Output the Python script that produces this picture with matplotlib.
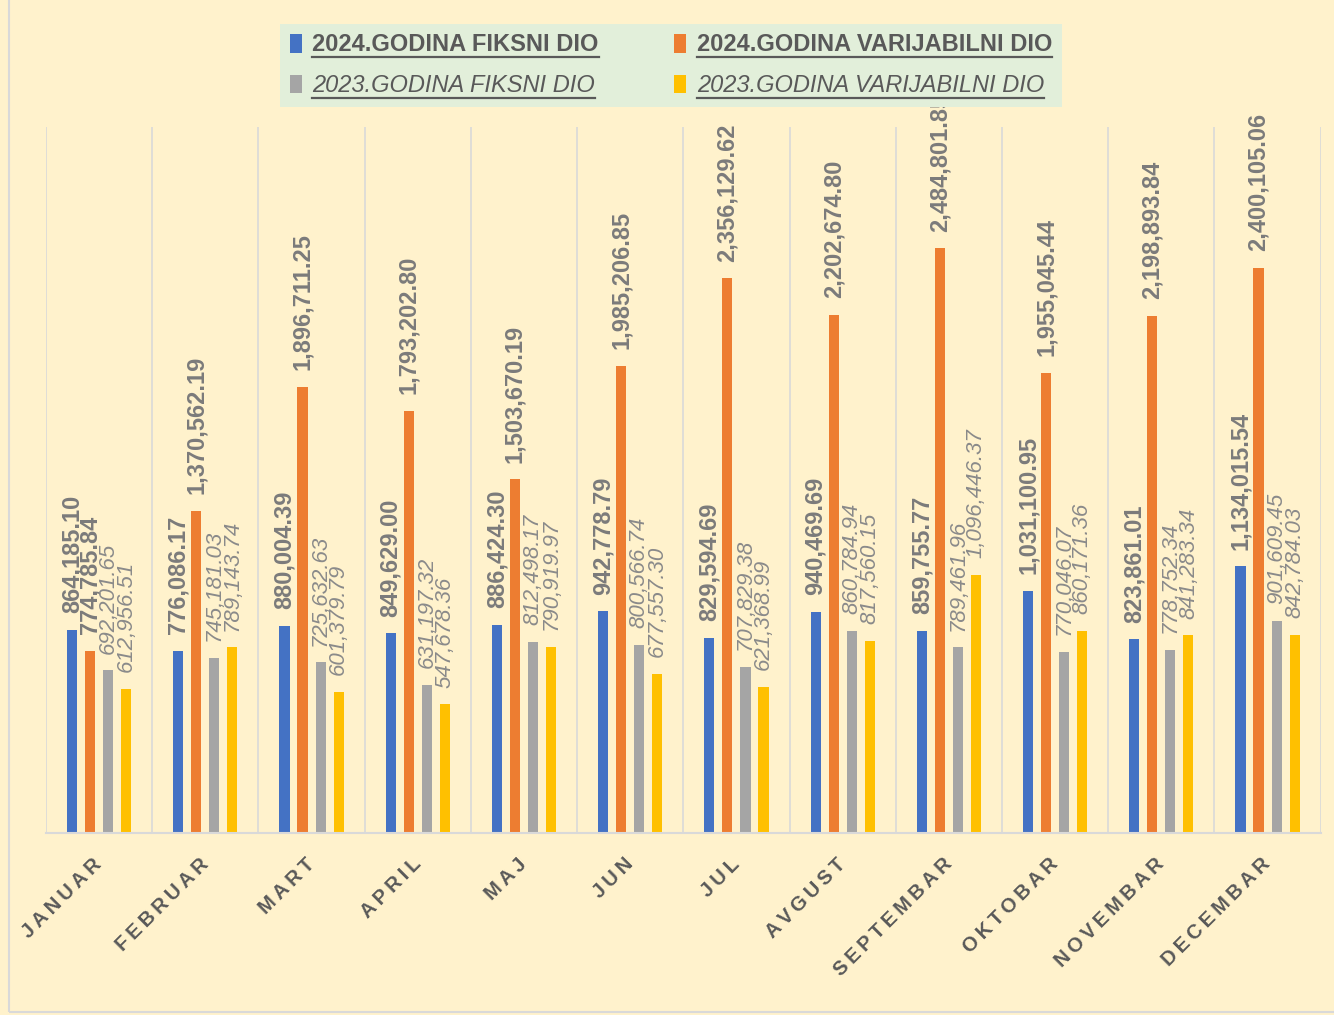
import matplotlib
matplotlib.use('Agg')
import matplotlib.pyplot as plt
import numpy as np
from matplotlib.lines import Line2D
from matplotlib.patches import Rectangle

plt.rcParams['font.family'] = ['Liberation Sans', 'DejaVu Sans']

months = ['JANUAR', 'FEBRUAR', 'MART', 'APRIL', 'MAJ', 'JUN', 'JUL', 'AVGUST',
          'SEPTEMBAR', 'OKTOBAR', 'NOVEMBAR', 'DECEMBAR']
fiks_2024 = [864185.10, 776086.17, 880004.39, 849629.00, 886424.30, 942778.79,
             829594.69, 940469.69, 859755.77, 1031100.95, 823861.01, 1134015.54]
var_2024 = [774785.84, 1370562.19, 1896711.25, 1793202.80, 1503670.19, 1985206.85,
            2356129.62, 2202674.80, 2484801.85, 1955045.44, 2198893.84, 2400105.06]
fiks_2023 = [692201.65, 745181.03, 725632.63, 631197.32, 812498.17, 800566.74,
             707829.38, 860784.94, 789461.96, 770046.07, 778752.34, 901609.45]
var_2023 = [612956.51, 789143.74, 601379.79, 547678.36, 790919.97, 677557.30,
            621368.99, 817560.15, 1096446.37, 860171.36, 841283.34, 842784.03]

series = [
    ('2024.GODINA FIKSNI DIO', fiks_2024, '#4472c4', True),
    ('2024.GODINA VARIJABILNI DIO', var_2024, '#ed7d31', True),
    ('2023.GODINA FIKSNI DIO', fiks_2023, '#a5a5a5', False),
    ('2023.GODINA VARIJABILNI DIO', var_2023, '#ffc000', False),
]

bg = '#fff2cc'
fig = plt.figure(figsize=(13.34, 10.15), dpi=100, facecolor=bg)
ax = fig.add_axes([0.0345, 0.179, 0.9555, 0.696])
ax.set_facecolor(bg)

x = np.arange(len(months))
step = 0.17
width = 0.095
handles = {}
for i, (name, vals, col, bold) in enumerate(series):
    pos = x + (i - 1.5) * step
    bars = ax.bar(pos, vals, width, color=col, zorder=2, label=name)
    handles[name] = bars
    for xp, v in zip(pos, vals):
        ax.annotate(f'{v:,.2f}', (xp, v), xytext=(0, 12), textcoords='offset points',
                    rotation=90, ha='center', va='bottom',
                    fontsize=17 if bold else 16,
                    fontweight='bold' if bold else 'normal',
                    fontstyle='normal' if bold else 'italic',
                    color='#7b7b7b' if bold else '#8a8a8a', zorder=3)

for b in np.arange(len(months) + 1) - 0.5:
    ax.axvline(b, color='#d9d9d9', lw=1.2, zorder=1)

ax.set_xlim(-0.5, len(months) - 0.5)
ax.set_ylim(0, 3.0e6)
ax.set_yticks([])
for s in ['top', 'left', 'right']:
    ax.spines[s].set_visible(False)
ax.spines['bottom'].set_color('#d9d9d9')
ax.spines['bottom'].set_linewidth(1.5)
ax.set_xticks(x)
ax.set_xticklabels(['\u2009'.join(m) for m in months], rotation=45, ha='right',
                   va='center', rotation_mode='anchor', fontsize=14.5,
                   fontweight='bold', color='#595959')
ax.tick_params(axis='x', length=0, pad=20)

order = ['2024.GODINA FIKSNI DIO', '2023.GODINA FIKSNI DIO',
         '2024.GODINA VARIJABILNI DIO', '2023.GODINA VARIJABILNI DIO']
leg = ax.legend([handles[n] for n in order], order, loc='upper center',
                bbox_to_anchor=(0.503, 0.988), bbox_transform=fig.transFigure,
                ncol=2, frameon=True, facecolor='#e2efda', edgecolor='none',
                fancybox=False, framealpha=1, handlelength=0.5, handleheight=0.85,
                handletextpad=0.45, columnspacing=3.2, labelspacing=0.75,
                borderpad=0.4, fontsize=17)
leg.set_zorder(10)
for t in leg.get_texts():
    t.set_color('#595959')
    if t.get_text().startswith('2024'):
        t.set_fontweight('bold')
    else:
        t.set_fontstyle('italic')

# underline legend entries
fig.canvas.draw()
for t in leg.get_texts():
    bb = t.get_window_extent()
    fig.add_artist(Line2D([bb.x0, bb.x1], [bb.y0 - 1, bb.y0 - 1], color='#595959',
                          lw=1.6, transform=None, zorder=11))

fig.add_artist(Rectangle((0.007, 0.003), 1.2, 1.2, transform=fig.transFigure,
                         fill=False, edgecolor='#d9d9d9', lw=1.5))

fig.savefig('out.png', dpi=100, facecolor=bg)
